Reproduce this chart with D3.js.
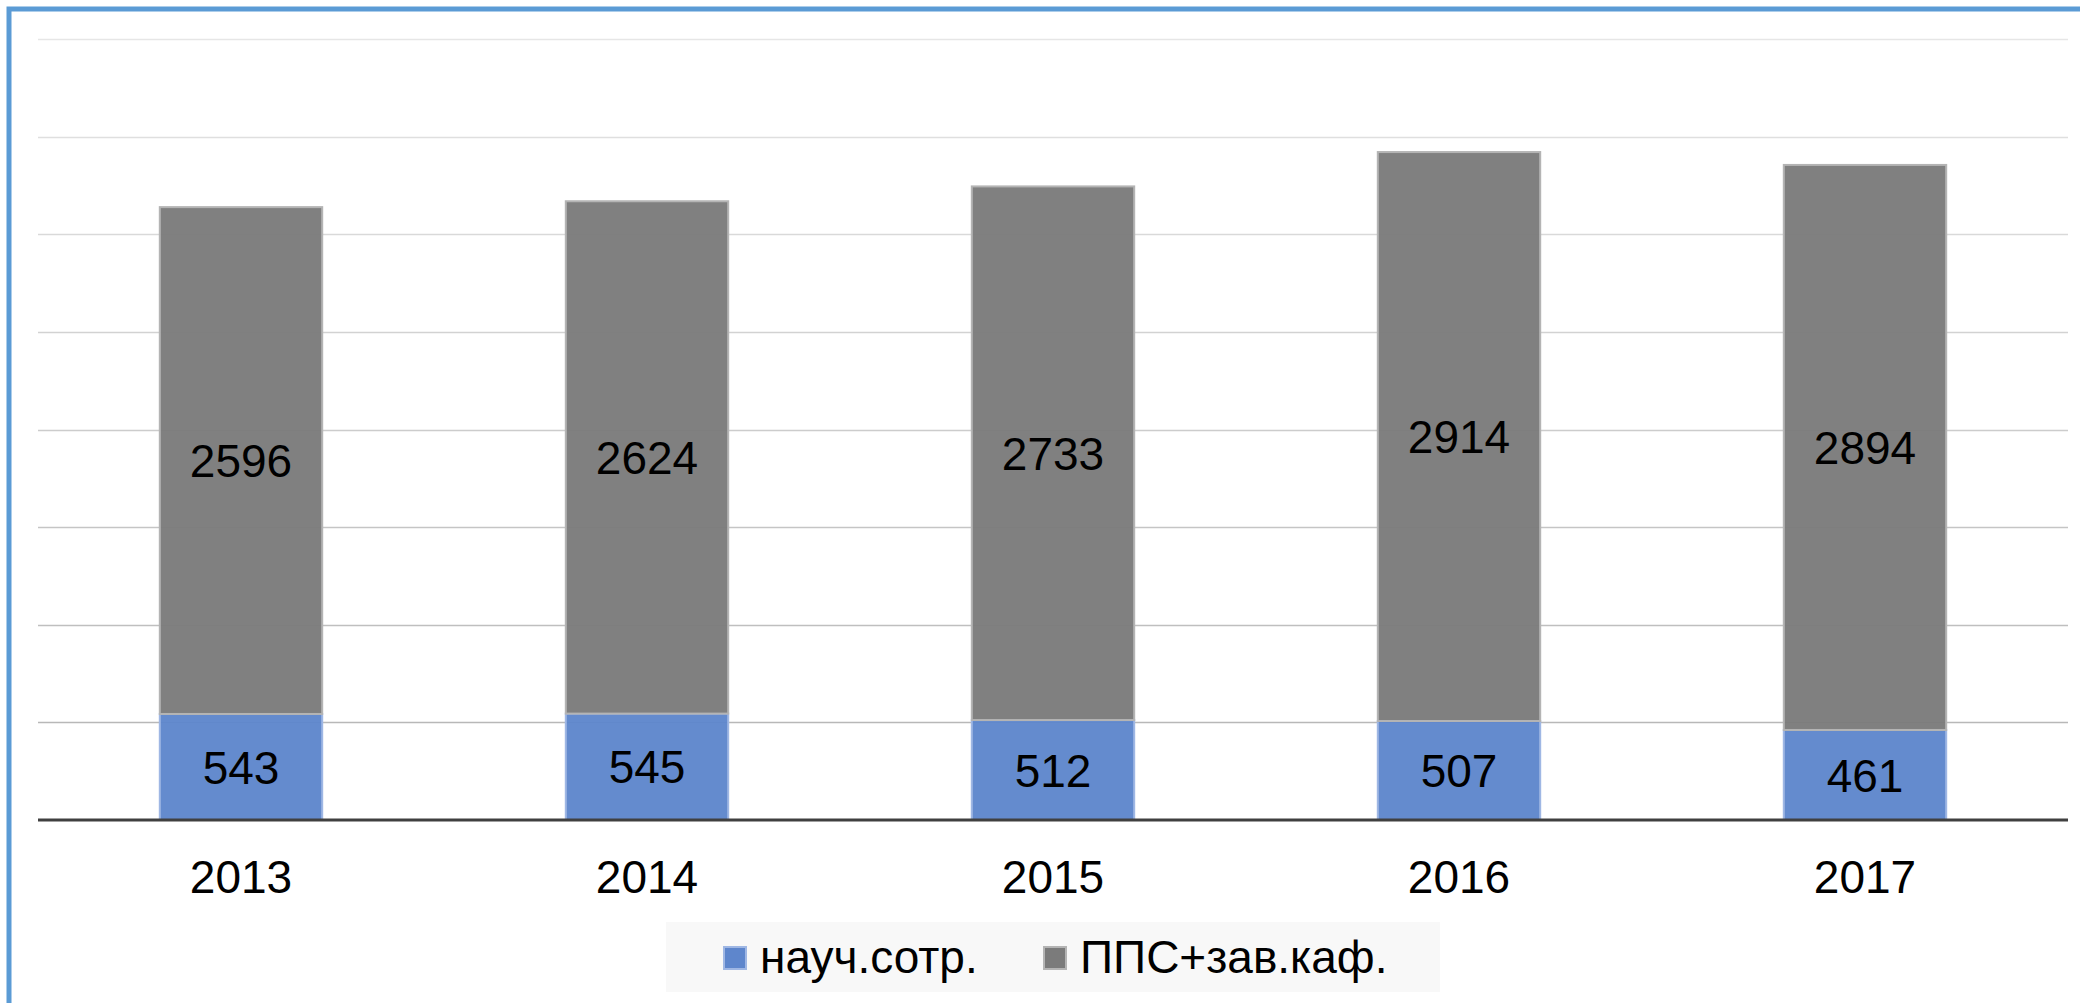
<!DOCTYPE html>
<html>
<head>
<meta charset="utf-8">
<script src="https://cdn.jsdelivr.net/npm/d3@7"></script>
<style>
  html, body { margin: 0; padding: 0; background: #ffffff; }
  svg { display: block; }
</style>
</head>
<body>
<svg id="chart" width="2080" height="1003"></svg>
<script>
const years = ["2013", "2014", "2015", "2016", "2017"];
const researchers = [543, 545, 512, 507, 461];
const faculty = [2596, 2624, 2733, 2914, 2894];
const seriesNames = ["науч.сотр.", "ППС+зав.каф."];
const seriesColors = ["#5e86cc", "#7b7b7b"];
const gridTicks = [0, 500, 1000, 1500, 2000, 2500, 3000, 3500, 4000];

const svg = d3.select("#chart");
const W = 2080, H = 1003;
const plot = { left: 38, right: 2068, top: 39, bottom: 820 };

// frame
svg.append("path")
  .attr("d", `M9,${H + 5} L9,9 L${W + 5},9`)
  .attr("fill", "none")
  .attr("stroke", "#5b9bd5")
  .attr("stroke-width", 5);

const x = d3.scaleBand().domain(years)
  .range([plot.left, plot.right]).paddingInner(0.6).paddingOuter(0.3);
const y = d3.scaleLinear().domain([0, 4000]).range([plot.bottom, plot.top]);

const gridColor = d3.scaleLinear().domain([4000, 500]).range(["#e6e6e6", "#b8b8b8"]);

// gridlines
svg.append("g").selectAll("line")
  .data(gridTicks.filter(t => t > 0))
  .join("line")
  .attr("x1", plot.left).attr("x2", plot.right)
  .attr("y1", d => Math.round(y(d)) + 0.5).attr("y2", d => Math.round(y(d)) + 0.5)
  .attr("stroke", d => gridColor(d))
  .attr("stroke-width", 1.5);

// stack
const rows = years.map((yr, i) => ({ year: yr, a: researchers[i], b: faculty[i] }));
const stack = d3.stack().keys(["a", "b"])(rows);

const gBars = svg.append("g");
stack.forEach((layer, li) => {
  gBars.append("g").selectAll("rect")
    .data(layer)
    .join("rect")
    .attr("x", d => x(d.data.year))
    .attr("width", x.bandwidth())
    .attr("y", d => y(d[1]))
    .attr("height", d => y(d[0]) - y(d[1]))
    .attr("fill", seriesColors[li])
    .attr("fill-opacity", 0.96)
    .attr("stroke", li === 0 ? "#9fb7e4" : "#b4b4b4")
    .attr("stroke-width", 2);
});

// value labels
stack.forEach((layer, li) => {
  svg.append("g").selectAll("text")
    .data(layer)
    .join("text")
    .attr("x", d => x(d.data.year) + x.bandwidth() / 2)
    .attr("y", d => (y(d[0]) + y(d[1])) / 2)
    .attr("dy", "0.36em")
    .attr("text-anchor", "middle")
    .attr("font-family", "Liberation Sans, Arial, sans-serif")
    .attr("font-size", 46)
    .attr("fill", "#000")
    .text(d => d[1] - d[0]);
});

// axis baseline + labels
const xAxis = d3.axisBottom(x).tickSize(0).tickPadding(40);
const gx = svg.append("g").attr("transform", `translate(0,${plot.bottom})`).call(xAxis);
gx.select(".domain").attr("stroke", "#404040").attr("stroke-width", 3)
  .attr("d", `M${plot.left},0H${plot.right}`);
gx.selectAll("text")
  .attr("font-family", "Liberation Sans, Arial, sans-serif")
  .attr("font-size", 46)
  .attr("fill", "#000")
  .attr("dy", "0.71em");

// legend
const lg = svg.append("g");
lg.append("rect").attr("x", 666).attr("y", 922).attr("width", 774).attr("height", 70)
  .attr("fill", "#f8f8f8");
const legendItems = [
  { name: seriesNames[0], color: seriesColors[0], stroke: "#9fb7e4", mx: 723, tx: 760 },
  { name: seriesNames[1], color: seriesColors[1], stroke: "#b4b4b4", mx: 1043, tx: 1080 }
];
legendItems.forEach(it => {
  lg.append("rect").attr("x", it.mx + 1).attr("y", 947).attr("width", 22).attr("height", 22)
    .attr("fill", it.color).attr("stroke", it.stroke).attr("stroke-width", 2);
  lg.append("text")
    .attr("x", it.tx).attr("y", 973)
    .attr("font-family", "Liberation Sans, Arial, sans-serif")
    .attr("font-size", 46)
    .attr("fill", "#000")
    .text(it.name);
});
</script>
</body>
</html>
